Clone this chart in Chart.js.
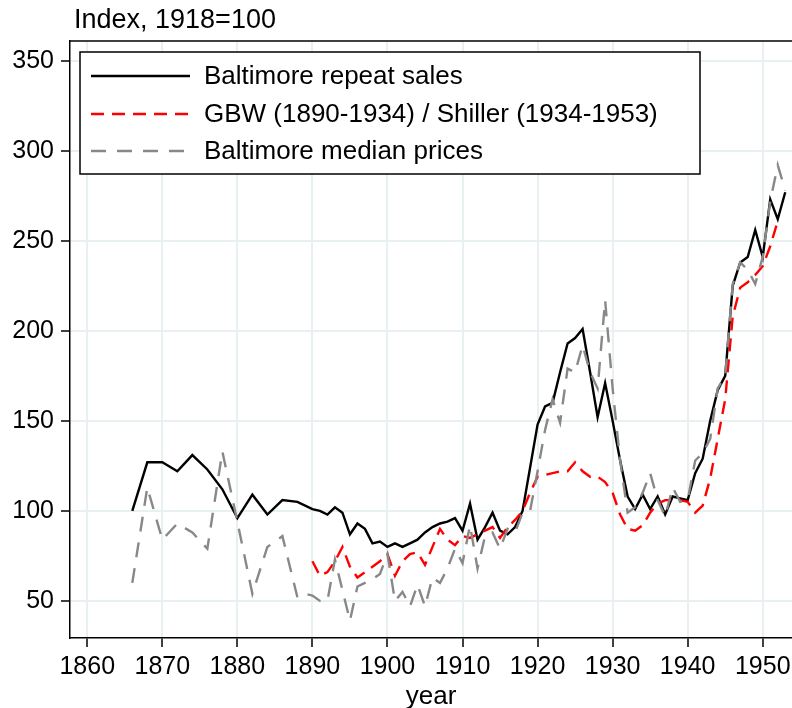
<!DOCTYPE html>
<html>
<head>
<meta charset="utf-8">
<script src="https://cdn.jsdelivr.net/npm/chart.js@4.4.1/dist/chart.umd.min.js"></script>
<style>
  body { margin: 0; background: #ffffff; }
  #contenedor { width: 792px; height: 708px; }
</style>
</head>
<body>
<div id="contenedor"><canvas id="lineChart" width="792" height="708"></canvas></div>
<script>
// Baltimore repeat sales
const repeatYears = [1866, 1868, 1870, 1872, 1874, 1876, 1878, 1880, 1882, 1884, 1886, 1888,
    1890, 1891, 1892, 1893, 1894, 1895, 1896, 1897, 1898, 1899, 1900, 1901, 1902, 1903, 1904,
    1905, 1906, 1907, 1908, 1909, 1910, 1911, 1912, 1913, 1914, 1915, 1916, 1917, 1918, 1919,
    1920, 1921, 1922, 1923, 1924, 1925, 1926, 1927, 1928, 1929, 1930, 1931, 1932, 1933, 1934,
    1935, 1936, 1937, 1938, 1939, 1940, 1941, 1942, 1943, 1944, 1945, 1946, 1947, 1948, 1949,
    1950, 1951, 1952, 1953];
const repeatValues = [100, 127, 127, 122, 131, 123, 112, 96, 109, 98, 106, 105,
    101, 100, 98, 102, 99, 87, 93, 90, 82, 83, 80, 82, 80, 82, 84,
    88, 91, 93, 94, 96, 89, 104, 84, 91, 99, 89, 87, 91, 100, 124,
    148, 158, 160, 177, 193, 196, 201, 177, 152, 171, 150, 128, 108, 101, 109,
    101, 108, 98, 108, 107, 106, 121, 129, 150, 167, 175, 225, 238, 241, 256,
    241, 273, 262, 277];

// GBW (1890-1934) / Shiller (1934-1953)
const gbwYears = [1890, 1891, 1892, 1893, 1894, 1895, 1896, 1897, 1898, 1899, 1900, 1901,
    1902, 1903, 1904, 1905, 1906, 1907, 1908, 1909, 1910, 1911, 1912, 1913, 1914, 1915, 1916,
    1917, 1918, 1919, 1920, 1921, 1922, 1923, 1924, 1925, 1926, 1927, 1928, 1929, 1930, 1931,
    1932, 1933, 1934, 1935, 1936, 1937, 1938, 1939, 1940, 1941, 1942, 1943, 1944, 1945, 1946,
    1947, 1948, 1949, 1950, 1951, 1952];
const gbwValues = [72, 64, 66, 72, 80, 69, 63, 66, 69, 72, 76, 64,
    72, 76, 77, 70, 80, 90, 84, 81, 86, 85, 87, 89, 91, 85, 91,
    95, 100, 110, 119, 120, 121, 122, 122, 127, 122, 119, 119, 116, 110, 98,
    90, 89, 92, 99, 104, 106, 106, 106, 105, 99, 103, 118, 140, 162, 208,
    224, 227, 231, 236, 247, 261];

// Baltimore median prices
const medianYears = [1866, 1868, 1870, 1872, 1874, 1876, 1878, 1880, 1882, 1884, 1886, 1888,
    1889, 1890, 1891, 1892, 1893, 1894, 1895, 1896, 1897, 1898, 1899, 1900, 1901, 1902, 1903,
    1904, 1905, 1906, 1907, 1908, 1909, 1910, 1911, 1912, 1913, 1914, 1915, 1916, 1917, 1918,
    1919, 1920, 1921, 1922, 1923, 1924, 1925, 1926, 1927, 1928, 1929, 1930, 1931, 1932, 1933,
    1934, 1935, 1936, 1937, 1938, 1939, 1940, 1941, 1942, 1943, 1944, 1945, 1946, 1947, 1948,
    1949, 1950, 1951, 1952, 1953];
const medianValues = [60, 113, 84, 93, 88, 79, 133, 94, 54, 80, 86, 52,
    54, 53, 50, 50, 73, 56, 39, 58, 60, 62, 65, 76, 50, 55, 47,
    59, 47, 63, 60, 68, 79, 71, 92, 68, 86, 88, 79, 90, 88, 99,
    100, 122, 145, 162, 149, 179, 177, 192, 177, 168, 217, 168, 128, 99, 102,
    110, 121, 106, 97, 113, 105, 106, 128, 132, 140, 168, 175, 226, 238, 234,
    226, 241, 272, 292, 278];

const xTicks = [1860, 1870, 1880, 1890, 1900, 1910, 1920, 1930, 1940, 1950];
const yTicks = [50, 100, 150, 200, 250, 300, 350];

const fuente = '"Liberation Sans", Arial, Helvetica, sans-serif';

function puntos(years, values) {
    return years.map((year, i) => ({ x: year, y: values[i] }));
}

// marco superior, titulo del eje y y leyenda en caja
const marcoYLeyenda = {
    id: 'marcoYLeyenda',
    afterDraw(chart) {
        const ctx = chart.ctx;
        const area = chart.chartArea;
        ctx.save();

        ctx.strokeStyle = '#000000';
        ctx.lineWidth = 1.5;
        ctx.beginPath();
        ctx.moveTo(area.left, area.top);
        ctx.lineTo(area.right, area.top);
        ctx.stroke();

        ctx.fillStyle = '#000000';
        ctx.font = '27px ' + fuente;
        ctx.textAlign = 'left';
        ctx.textBaseline = 'middle';
        ctx.fillText('Index, 1918=100', 74, 21);

        // caja de la leyenda
        const x0 = area.left + 10;
        const y0 = area.top + 11;
        ctx.fillStyle = '#ffffff';
        ctx.fillRect(x0, y0, 620, 122);
        ctx.strokeStyle = '#000000';
        ctx.lineWidth = 1.5;
        ctx.strokeRect(x0, y0, 620, 122);

        ctx.font = '26px ' + fuente;
        const filas = [24, 62, 99];
        chart.data.datasets.forEach((ds, i) => {
            const yy = y0 + filas[i];
            ctx.strokeStyle = ds.borderColor;
            ctx.lineWidth = ds.borderWidth;
            ctx.setLineDash(ds.borderDash || []);
            ctx.beginPath();
            ctx.moveTo(x0 + 11, yy);
            ctx.lineTo(x0 + 110, yy);
            ctx.stroke();
            ctx.setLineDash([]);
            ctx.fillStyle = '#000000';
            ctx.fillText(ds.label, x0 + 124, yy + 1);
        });
        ctx.restore();
    }
};

const ctx = document.getElementById('lineChart').getContext('2d');

const lineChart = new Chart(ctx, {
    type: 'line',
    data: {
        datasets: [
            {
                label: 'Baltimore repeat sales',
                data: puntos(repeatYears, repeatValues),
                borderColor: '#000000',
                borderWidth: 2.4,
                order: 2
            },
            {
                label: 'GBW (1890-1934) / Shiller (1934-1953)',
                data: puntos(gbwYears, gbwValues),
                borderColor: '#ff0000',
                borderWidth: 2.4,
                borderDash: [13, 8],
                order: 1
            },
            {
                label: 'Baltimore median prices',
                data: puntos(medianYears, medianValues),
                borderColor: '#888888',
                borderWidth: 2.4,
                borderDash: [15, 11],
                order: 0
            }
        ]
    },
    options: {
        responsive: false,
        animation: false,
        devicePixelRatio: 1,
        layout: {
            padding: { top: 41, right: 0, bottom: 0, left: 0 }
        },
        elements: {
            point: { radius: 0 },
            line: { tension: 0, fill: false }
        },
        plugins: {
            legend: { display: false },
            tooltip: { enabled: false }
        },
        scales: {
            x: {
                type: 'linear',
                min: 1857.7,
                max: 1953.9,
                afterBuildTicks: (scale) => {
                    scale.ticks = xTicks.map(v => ({ value: v }));
                },
                afterFit: (scale) => {
                    scale.height = 70;
                    scale.paddingLeft = 0;
                    scale.paddingRight = 0;
                },
                ticks: {
                    color: '#000000',
                    padding: 5,
                    maxRotation: 0,
                    autoSkip: false,
                    font: { family: fuente, size: 25 },
                    callback: (v) => String(v)
                },
                grid: {
                    color: '#e8f0f2',
                    lineWidth: 2,
                    tickColor: '#000000',
                    tickWidth: 1.5,
                    tickLength: 9
                },
                border: { color: '#000000', width: 1.5 },
                title: {
                    display: true,
                    text: 'year',
                    color: '#000000',
                    font: { family: fuente, size: 26 },
                    padding: { top: 0, bottom: -4 }
                }
            },
            y: {
                min: 29.4,
                max: 361,
                afterBuildTicks: (scale) => {
                    scale.ticks = yTicks.map(v => ({ value: v }));
                },
                afterFit: (scale) => {
                    scale.width = 70;
                    scale.paddingTop = 0;
                    scale.paddingBottom = 0;
                },
                ticks: {
                    color: '#000000',
                    padding: 7,
                    font: { family: fuente, size: 25 }
                },
                grid: {
                    color: '#e8f0f2',
                    lineWidth: 2,
                    tickColor: '#000000',
                    tickWidth: 1.5,
                    tickLength: 9
                },
                border: { color: '#000000', width: 1.5 }
            }
        }
    },
    plugins: [marcoYLeyenda]
});
</script>
</body>
</html>
